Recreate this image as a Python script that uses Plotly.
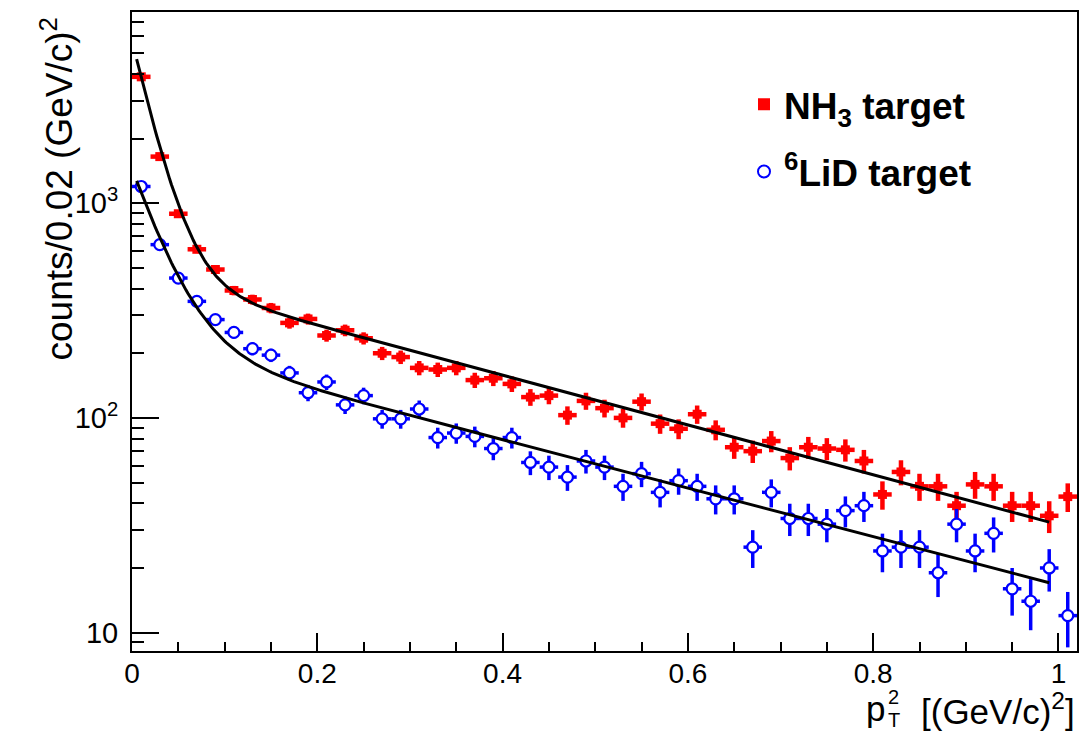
import numpy as np
import plotly.graph_objects as go

# p_T^2 bin centres (bin width 0.02)
pt2 = [0.01, 0.03, 0.05, 0.07, 0.09, 0.11, 0.13, 0.15, 0.17, 0.19,
       0.21, 0.23, 0.25, 0.27, 0.29, 0.31, 0.33, 0.35, 0.37, 0.39,
       0.41, 0.43, 0.45, 0.47, 0.49, 0.51, 0.53, 0.55, 0.57, 0.59,
       0.61, 0.63, 0.65, 0.67, 0.69, 0.71, 0.73, 0.75, 0.77, 0.79,
       0.81, 0.83, 0.85, 0.87, 0.89, 0.91, 0.93, 0.95, 0.97, 0.99, 1.01]
bin_half_width = 0.01

# counts per bin, NH3 target
nh3_counts = [3877, 1648, 893, 610, 491, 392, 356, 325, 277, 289,
              242, 256, 235, 200, 192, 171, 168, 171, 150, 153,
              144, 125, 127, 103, 120, 111, 100, 119, 94, 89,
              104, 88, 73, 70, 78, 65, 73, 72, 71, 63,
              44, 56, 48, 48, 39, 49, 48, 39, 39, 35, 43]

# counts per bin, 6LiD target
lid_counts = [1196, 641, 448, 349, 287, 250, 210, 196, 162, 131,
              147, 115, 127, 99, 99, 110, 81, 85, 82, 72,
              81, 62, 59, 53, 63, 59, 48, 55, 45, 51,
              48, 42, 42, 25, 45, 34, 34, 32, 37, 39,
              24, 25, 25, 19, 32, 24, 29, 16, 14, 20, 12]

# double-exponential fit parameters: A*exp(-a*x) + B*exp(-b*x)
nh3_fit = dict(A=5270.0, a=44.0, B=460.0, b=2.67)
lid_fit = dict(A=1226.0, a=31.0, B=224.0, b=2.60)
fit_range = (0.005, 0.99)

y_tickvals = [10, 100, 1000]
y_ticktext = ["10", "10<sup>2</sup>", "10<sup>3</sup>"]
y_minor = [m * 10 ** d for d in range(0, 4) for m in range(2, 10)]
x_tickvals = [0, 0.2, 0.4, 0.6, 0.8, 1.0]
x_ticktext = ["0", "0.2", "0.4", "0.6", "0.8", "1"]

FONT = "Liberation Sans, Arial, Helvetica, sans-serif"

# plot area in pixels, used to place the axis titles
W, H = 1089, 731
ML, MR, MT, MB = 132, 12, 10, 80
PW, PH = W - ML - MR, H - MT - MB


def px_x(px):
    return (px - ML) / PW


def px_y(py):
    return (H - MB - py) / PH


def double_exp(x, p):
    return p["A"] * np.exp(-p["a"] * x) + p["B"] * np.exp(-p["b"] * x)


xf = np.linspace(fit_range[0], fit_range[1], 500)
x = np.array(pt2)
nh3 = np.array(nh3_counts, dtype=float)
lid = np.array(lid_counts, dtype=float)

fig = go.Figure()

fig.add_trace(go.Scatter(
    x=x, y=nh3, mode="markers", name="NH<sub>3</sub> target",
    marker=dict(symbol="square", size=9, color="#ff0000"),
    error_x=dict(type="constant", value=bin_half_width, color="#ff0000",
                 thickness=4.5, width=0),
    error_y=dict(type="data", array=np.sqrt(nh3), color="#ff0000",
                 thickness=4.5, width=0),
    legendgroup="a",
))
fig.add_trace(go.Scatter(
    x=x, y=lid, mode="markers", name="<sup>6</sup>LiD target",
    marker=dict(symbol="circle", size=11, color="white",
                line=dict(color="#0000ff", width=2.2)),
    error_x=dict(type="constant", value=bin_half_width, color="#0000ff",
                 thickness=3.5, width=0),
    error_y=dict(type="data", array=np.sqrt(lid), color="#0000ff",
                 thickness=3.5, width=0),
    legendgroup="b",
))
fig.add_trace(go.Scatter(
    x=xf, y=double_exp(xf, nh3_fit), mode="lines",
    line=dict(color="black", width=3), showlegend=False, hoverinfo="skip",
))
fig.add_trace(go.Scatter(
    x=xf, y=double_exp(xf, lid_fit), mode="lines",
    line=dict(color="black", width=3), showlegend=False, hoverinfo="skip",
))

axis_common = dict(
    showgrid=False, zeroline=False, showline=True, linecolor="black",
    linewidth=2, mirror=True, ticks="inside", tickcolor="black",
    tickwidth=1.5,
)

fig.update_xaxes(
    range=[0, 1.02], tickmode="array", tickvals=x_tickvals,
    ticktext=x_ticktext, ticklen=18, ticklabelstandoff=-4,
    tickfont=dict(family=FONT, size=28, color="black"),
    minor=dict(dtick=0.05, tick0=0, ticks="inside", ticklen=9,
               tickcolor="black", tickwidth=1.5),
    **axis_common,
)
fig.update_yaxes(
    type="log", range=[np.log10(8.21), np.log10(7770)], tickmode="array",
    tickvals=y_tickvals, ticktext=y_ticktext, ticklen=27,
    ticklabelstandoff=6,
    tickfont=dict(family=FONT, size=29, color="black"),
    minor=dict(tickmode="array", tickvals=y_minor, ticks="inside",
               ticklen=12, tickcolor="black", tickwidth=1.5),
    **axis_common,
)

title_font = dict(family=FONT, size=35, color="black")
small_font = dict(family=FONT, size=20, color="black")

# y-axis title, top-aligned
fig.add_annotation(
    text="counts/0.02 (GeV/c)<sup>2</sup>", textangle=-90,
    xref="paper", yref="paper", x=px_x(57), y=px_y(14),
    xanchor="center", yanchor="top", showarrow=False,
    font=dict(family=FONT, size=37, color="black"),
)

# x-axis title, right-aligned: p with stacked T / 2, then the unit
fig.add_annotation(
    text="[(GeV/c)<sup>2</sup>]",
    xref="paper", yref="paper", x=px_x(1077), y=px_y(709),
    xanchor="right", yanchor="middle", showarrow=False,
    font=dict(family=FONT, size=35, color="black"),
)
fig.add_annotation(
    text="p", xref="paper", yref="paper", x=px_x(887), y=px_y(709),
    xanchor="right", yanchor="middle", showarrow=False, font=title_font,
)
fig.add_annotation(
    text="2", xref="paper", yref="paper", x=px_x(886), y=px_y(697),
    xanchor="left", yanchor="middle", showarrow=False, font=small_font,
)
fig.add_annotation(
    text="T", xref="paper", yref="paper", x=px_x(886), y=px_y(720),
    xanchor="left", yanchor="middle", showarrow=False, font=small_font,
)

fig.update_layout(
    width=W, height=H,
    margin=dict(l=ML, r=MR, t=MT, b=MB),
    paper_bgcolor="white", plot_bgcolor="white",
    showlegend=True,
    legend=dict(
        x=px_x(744), y=px_y(72), xanchor="left", yanchor="top",
        bgcolor="rgba(0,0,0,0)", borderwidth=0,
        font=dict(family=FONT, size=37, color="black", weight="bold"),
        traceorder="grouped", tracegroupgap=16, itemsizing="constant",
    ),
)

fig.write_html("out.html")
